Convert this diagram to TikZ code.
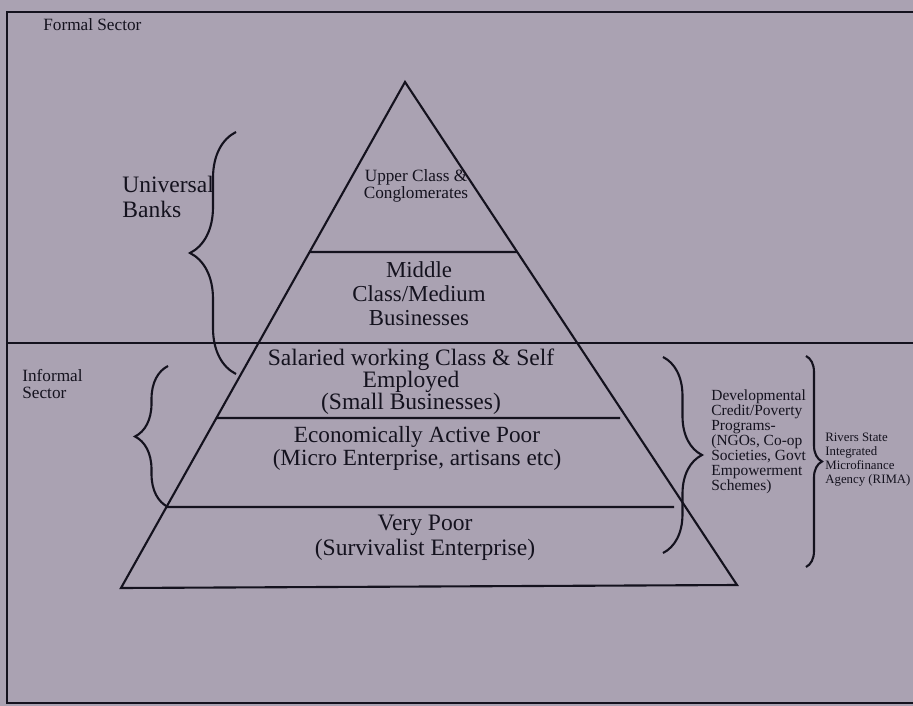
\documentclass[tikz,border=0pt]{standalone}
\usepackage{fontspec}
\setmainfont{Liberation Serif}
\usetikzlibrary{decorations.pathreplacing}
\usetikzlibrary{calc}

\definecolor{paper}{RGB}{170,162,178}
\definecolor{ink}{RGB}{20,18,30}

\begin{document}
\begin{tikzpicture}[x=0.02cm, y=-0.02cm]

% Define styles
\tikzset{
    edge/.style={draw=ink, line width=1.2pt},
    tiertext/.style={align=center, inner sep=0pt, text=ink},
    sidetext/.style={align=left, inner sep=0pt, anchor=north west, text=ink},
    curly/.style={draw=ink, line width=1.2pt, decorate, decoration={brace, amplitude=#1}}
}

% only the scanned page
\useasboundingbox (0,0) rectangle (913,706);
\clip (0,0) rectangle (913,706);
\fill[paper] (0,0) rectangle (913,706);

% page frame
\draw[edge] (7,12) rectangle (925,703);

% line between formal and informal sector
\coordinate (S1) at (7,343);
\coordinate (S2) at (925,343);
\draw[edge] (S1) -- (S2);

% corners of the pyramid
\coordinate (TOP) at (405,82);
\coordinate (BL) at (121,588);
\coordinate (BR) at (737,585);
\draw[edge] (TOP) -- (BL) -- (BR) -- cycle;

% tier lines
\draw[edge] ($(TOP)!0.336!(BL)$) -- ($(TOP)!0.338!(BR)$);
\draw[edge] ($(TOP)!0.664!(BL)$) -- (620,418);
\draw[edge] ($(TOP)!0.840!(BL)$) -- (674,507);

% tiers
\node[tiertext, font=\fontsize{9.8}{9.6}\selectfont] (upper) at (416,186)
    {Upper Class \&\\Conglomerates};
\node[tiertext, font=\fontsize{13}{13.6}\selectfont] (middle) at (419,294)
    {Middle\\Class/Medium\\Businesses};
\node[tiertext, font=\fontsize{13.4}{12.4}\selectfont] (salaried) at (411,382)
    {Salaried working Class \& Self\\Employed\\(Small Businesses)};
\node[tiertext, font=\fontsize{13.2}{13}\selectfont] (active) at (417,448)
    {Economically Active Poor\\(Micro Enterprise, artisans etc)};
\node[tiertext, font=\fontsize{13.4}{14.5}\selectfont] (verypoor) at (425,538)
    {Very Poor\\(Survivalist Enterprise)};

% sector labels
\node[sidetext, anchor=base west, font=\fontsize{9.8}{9.6}\selectfont] (formal) at (43,31) {Formal Sector};
\node[sidetext, font=\fontsize{9.8}{9.7}\selectfont] (informal) at (22,369) {Informal\\Sector};

% braces
\coordinate (U1) at (236,132);
\coordinate (U2) at (236,374);
\draw[curly=0.92cm] (U2) -- (U1);
\node[sidetext, anchor=west, font=\fontsize{13.4}{14.2}\selectfont] (banks) at (122,197) {Universal\\Banks};

\coordinate (I1) at (168,366);
\coordinate (I2) at (168,507);
\draw[curly=0.66cm] (I2) -- (I1);

\coordinate (D1) at (663,357);
\coordinate (D2) at (663,553);
\draw[curly=0.78cm] (D1) -- (D2);
\node[sidetext, font=\fontsize{8.8}{8.6}\selectfont] (devel) at (711,389)
    {Developmental\\Credit/Poverty\\Programs-\\(NGOs, Co-op\\Societies, Govt\\Empowerment\\Schemes)};

\coordinate (R1) at (806,356);
\coordinate (R2) at (806,567);
\draw[curly=0.32cm] (R1) -- (R2);
\node[sidetext, font=\fontsize{7.3}{7.9}\selectfont] (rima) at (825,433)
    {Rivers State\\Integrated\\Microfinance\\Agency (RIMA)};

\end{tikzpicture}
\end{document}
